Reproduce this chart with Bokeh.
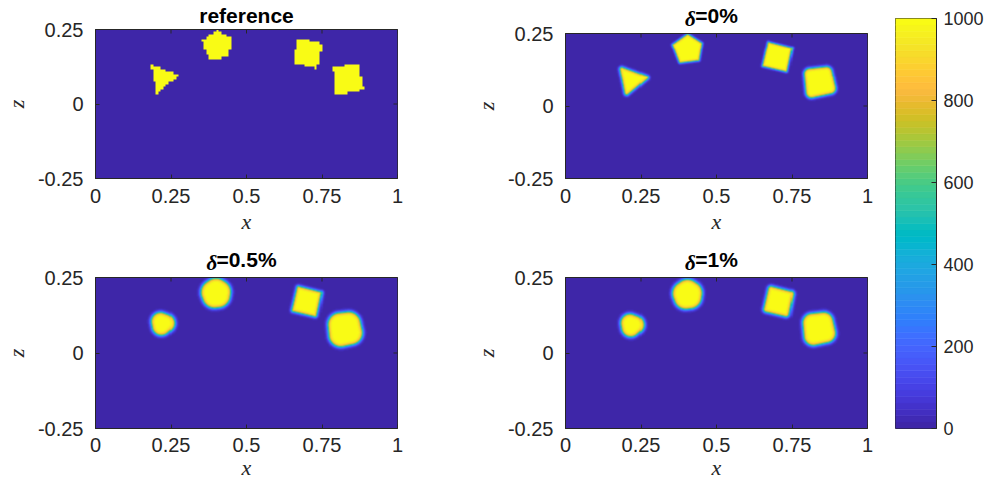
import numpy as np
from bokeh.plotting import figure
from bokeh.models import Range1d, LinearAxis, FixedTicker, LinearColorMapper
from bokeh.layouts import row, column
from bokeh.embed import file_html
from bokeh.resources import INLINE

# ---------------- data ----------------
panel_titles = ["reference", "=0%", "=0.5%", "=1%"]
panel_has_delta = [False, True, True, True]
x_ticks = [0, 0.25, 0.5, 0.75, 1]
x_tick_labels = ["0", "0.25", "0.5", "0.75", "1"]
z_ticks = [-0.25, 0, 0.25]
z_tick_labels = ["-0.25", "0", "0.25"]
cbar_ticks = [0, 200, 400, 600, 800, 1000]
cbar_tick_labels = ["0", "200", "400", "600", "800", "1000"]
value_low = 0
value_high = 1000
x_label = "x"
z_label = "z"

# reference inclusions (polygon vertices)
triangle_x = [0.184, 0.277, 0.203]
triangle_z = [0.132, 0.0975, 0.035]
pentagon_x = [0.404, 0.452, 0.442, 0.377, 0.353]
pentagon_z = [0.248, 0.217, 0.157, 0.149, 0.212]
square_a_x = [0.672, 0.751, 0.734, 0.653]
square_a_z = [0.221, 0.201, 0.119, 0.138]
square_b_x = [0.786, 0.870, 0.889, 0.795]
square_b_z = [0.125, 0.134, 0.049, 0.029]

# reconstructions: per inclusion (triangle, pentagon, square a, square b)
d0_shift_x = [-0.002, 0.000, 0.000, 0.005]
d0_shift_z = [0.002, 0.000, 0.000, 0.000]
d0_shrink = [0.84, 0.94, 0.96, 0.66]
d0_round = [0.007, 0.003, 0.002, 0.019]
d0_blur = [0.0028, 0.0022, 0.0022, 0.003]

d05_shift_x = [0.001, -0.007, -0.002, -0.010]
d05_shift_z = [0.008, 0.001, 0.000, -0.006]
d05_shrink = [0.15, 0.18, 0.90, 0.35]
d05_round = [0.031, 0.041, 0.005, 0.040]
d05_blur = [0.0035, 0.0035, 0.003, 0.0035]

d1_shift_x = [-0.001, -0.002, 0.004, 0.003]
d1_shift_z = [0.003, -0.003, 0.000, -0.004]
d1_shrink = [0.15, 0.20, 0.80, 0.45]
d1_round = [0.031, 0.040, 0.010, 0.032]
d1_blur = [0.0035, 0.0035, 0.0032, 0.0035]

# MATLAB parula (64)
parula = [
    (0.2422, 0.1504, 0.6603), (0.2504, 0.1650, 0.7076), (0.2578, 0.1818, 0.7511), (0.2647, 0.1978, 0.7952),
    (0.2706, 0.2147, 0.8364), (0.2751, 0.2342, 0.8710), (0.2783, 0.2559, 0.8991), (0.2803, 0.2782, 0.9221),
    (0.2813, 0.3006, 0.9414), (0.2810, 0.3228, 0.9579), (0.2795, 0.3447, 0.9717), (0.2760, 0.3667, 0.9829),
    (0.2699, 0.3892, 0.9906), (0.2602, 0.4123, 0.9952), (0.2440, 0.4358, 0.9988), (0.2206, 0.4603, 0.9973),
    (0.1963, 0.4847, 0.9892), (0.1834, 0.5074, 0.9798), (0.1786, 0.5289, 0.9682), (0.1764, 0.5499, 0.9520),
    (0.1687, 0.5703, 0.9359), (0.1540, 0.5902, 0.9218), (0.1460, 0.6091, 0.9079), (0.1380, 0.6276, 0.8973),
    (0.1248, 0.6459, 0.8883), (0.1113, 0.6635, 0.8763), (0.0952, 0.6798, 0.8598), (0.0689, 0.6948, 0.8394),
    (0.0297, 0.7082, 0.8163), (0.0036, 0.7203, 0.7917), (0.0067, 0.7312, 0.7660), (0.0433, 0.7411, 0.7394),
    (0.0964, 0.7500, 0.7120), (0.1408, 0.7584, 0.6842), (0.1717, 0.7670, 0.6554), (0.1938, 0.7758, 0.6251),
    (0.2161, 0.7843, 0.5923), (0.2470, 0.7918, 0.5567), (0.2906, 0.7973, 0.5188), (0.3406, 0.8008, 0.4789),
    (0.3909, 0.8029, 0.4354), (0.4456, 0.8024, 0.3909), (0.5044, 0.7993, 0.3480), (0.5616, 0.7942, 0.3045),
    (0.6174, 0.7876, 0.2612), (0.6720, 0.7793, 0.2227), (0.7242, 0.7698, 0.1910), (0.7738, 0.7598, 0.1646),
    (0.8203, 0.7498, 0.1535), (0.8634, 0.7406, 0.1596), (0.9035, 0.7330, 0.1774), (0.9393, 0.7288, 0.2100),
    (0.9728, 0.7298, 0.2394), (0.9956, 0.7434, 0.2371), (0.9970, 0.7659, 0.2199), (0.9952, 0.7893, 0.2028),
    (0.9892, 0.8136, 0.1885), (0.9786, 0.8386, 0.1766), (0.9676, 0.8639, 0.1643), (0.9610, 0.8890, 0.1537),
    (0.9597, 0.9135, 0.1423), (0.9628, 0.9373, 0.1265), (0.9691, 0.9606, 0.1064), (0.9769, 0.9839, 0.0805),
]
palette = ["#%02x%02x%02x" % tuple(int(round(c * 255)) for c in rgb) for rgb in parula]

# ---------------- field construction ----------------
shapes = [(triangle_x, triangle_z), (pentagon_x, pentagon_z), (square_a_x, square_a_z), (square_b_x, square_b_z)]


def grid(nx, nz):
    xs = (np.arange(nx) + 0.5) / nx
    zs = -0.25 + (np.arange(nz) + 0.5) / nz * 0.5
    return np.meshgrid(xs, zs)


def poly_sdf(PX, PZ, vx, vz):
    n = len(vx)
    d = np.full(PX.shape, np.inf)
    s = np.ones(PX.shape)
    for i in range(n):
        j = (i - 1) % n
        ex, ez = vx[j] - vx[i], vz[j] - vz[i]
        wx, wz = PX - vx[i], PZ - vz[i]
        t = np.clip((wx * ex + wz * ez) / (ex * ex + ez * ez), 0, 1)
        bx, bz = wx - ex * t, wz - ez * t
        d = np.minimum(d, bx * bx + bz * bz)
        c1 = PZ >= vz[i]
        c2 = PZ < vz[j]
        c3 = ex * wz > ez * wx
        flip = (c1 & c2 & c3) | (~c1 & ~c2 & ~c3)
        s = np.where(flip, -s, s)
    return s * np.sqrt(d)


def reference_field():
    PX, PZ = grid(120, 60)
    f = np.full(PX.shape, float(value_low))
    for vx, vz in shapes:
        f[poly_sdf(PX, PZ, np.array(vx), np.array(vz)) < 0] = value_high
    return np.kron(f, np.ones((5, 5)))


def recon_field(sx, sz, shrink, rnd, blur):
    PX, PZ = grid(300, 150)
    f = np.full(PX.shape, float(value_low))
    for k, (vx, vz) in enumerate(shapes):
        vx = np.array(vx); vz = np.array(vz)
        cx, cz = vx.mean(), vz.mean()
        nvx = cx + shrink[k] * (vx - cx) + sx[k]
        nvz = cz + shrink[k] * (vz - cz) + sz[k]
        d = poly_sdf(PX, PZ, nvx, nvz) - rnd[k]
        v = value_high / (1.0 + np.exp(np.clip(d / blur[k], -50, 50)))
        f = np.maximum(f, v)
    return f


fields = [
    reference_field(),
    recon_field(d0_shift_x, d0_shift_z, d0_shrink, d0_round, d0_blur),
    recon_field(d05_shift_x, d05_shift_z, d05_shrink, d05_round, d05_blur),
    recon_field(d1_shift_x, d1_shift_z, d1_shrink, d1_round, d1_blur),
]

mapper = LinearColorMapper(palette=palette, low=value_low, high=value_high)

AX = "#262626"
TICK_FONT = "Liberation Sans"
TICK_SIZE = "20px"
CB_TICK_SIZE = "18px"
TITLE_PX = 21
LABEL_FONT = "Liberation Serif"
LABEL_SIZE = "22px"
FRAME_W = 308

char_w = {"=": 0.584, ".": 0.278, "%": 0.889}


def text_width(s, size):
    return sum(char_w.get(c, 0.556) for c in s) * size


def style_axis(ax, ticks, labels, standoff):
    ax.ticker = FixedTicker(ticks=ticks)
    ax.major_label_overrides = dict(zip(ticks, labels))
    ax.major_tick_in = 4
    ax.major_tick_out = 0
    ax.minor_tick_in = 0
    ax.minor_tick_out = 0
    ax.axis_line_color = AX
    ax.major_tick_line_color = AX
    ax.major_label_text_color = AX
    ax.major_label_text_font = TICK_FONT
    ax.major_label_text_font_size = TICK_SIZE
    ax.major_label_standoff = standoff
    ax.axis_label_text_font = LABEL_FONT
    ax.axis_label_text_font_style = "italic"
    ax.axis_label_text_font_size = LABEL_SIZE
    ax.axis_label_text_color = AX


def make_panel(k, width, height, left, right, top, bottom, xtick_standoff, xlab_standoff):
    p = figure(width=width, height=height, x_range=Range1d(0, 1), y_range=Range1d(-0.25, 0.25),
               output_backend="svg", toolbar_location=None,
               min_border_left=left, min_border_right=right, min_border_top=top, min_border_bottom=bottom)
    p.image(image=[fields[k]], x=0, y=-0.25, dw=1, dh=0.5, color_mapper=mapper)
    p.grid.visible = False
    p.outline_line_color = AX
    p.background_fill_color = "white"
    p.border_fill_color = "white"
    style_axis(p.xaxis[0], x_ticks, x_tick_labels, xtick_standoff)
    p.xaxis[0].axis_label = x_label
    p.xaxis[0].axis_label_standoff = xlab_standoff
    style_axis(p.yaxis[0], z_ticks, z_tick_labels, 12)
    p.yaxis[0].axis_label = z_label
    p.yaxis[0].axis_label_standoff = 6

    # mirrored ticks on top and right edges
    p.ray(x=x_ticks, y=0.25, length=4, length_units="screen", angle=-np.pi / 2, line_color=AX, line_width=1)
    p.ray(x=1, y=z_ticks, length=4, length_units="screen", angle=np.pi, line_color=AX, line_width=1)

    # title as the label of a top axis
    title = panel_titles[k]
    top_ax = LinearAxis(axis_line_color=AX, major_tick_in=0, major_tick_out=0,
                        minor_tick_in=0, minor_tick_out=0)
    top_ax.axis_label = title
    top_ax.axis_label_text_font = "Liberation Sans"
    top_ax.axis_label_text_font_style = "bold"
    top_ax.axis_label_text_font_size = f"{TITLE_PX}px"
    top_ax.axis_label_text_color = "black"
    if panel_has_delta[k]:
        wd = 0.5 * TITLE_PX
        wr = text_width(title, TITLE_PX)
        dpos = round(0.5 - (wr / 2 + wd / 2) / FRAME_W, 4)
        top_ax.ticker = FixedTicker(ticks=[dpos])
        top_ax.major_label_overrides = {dpos: "δ"}
        top_ax.major_label_text_font = "Liberation Serif"
        top_ax.major_label_text_font_style = "bold italic"
        top_ax.major_label_text_font_size = f"{TITLE_PX}px"
        top_ax.major_label_text_color = "black"
        top_ax.major_label_standoff = 3
        top_ax.axis_label_standoff = -23
    else:
        top_ax.ticker = FixedTicker(ticks=[])
        top_ax.axis_label_standoff = 3
    p.add_layout(top_ax, "above")
    return p


# page area available: 986 x 484 starting at (8, 8)
tl = make_panel(0, 470, 238, 89, 73, 27, 60, 10, 3)
tr = make_panel(1, 409, 238, 89, 12, 27, 60, 10, 3)
bl = make_panel(2, 470, 246, 89, 73, 39, 56, 9, 0)
br = make_panel(3, 409, 246, 89, 12, 39, 56, 9, 0)

# colorbar
cb = figure(width=107, height=484, x_range=Range1d(0, 1), y_range=Range1d(value_low, value_high),
            output_backend="svg", toolbar_location=None, x_axis_location=None, y_axis_location="right",
            min_border_left=16, min_border_right=47, min_border_top=18, min_border_bottom=56)
n = len(palette)
edges = np.linspace(value_low, value_high, n + 1)
cb.quad(left=0, right=1, bottom=edges[:-1], top=edges[1:], fill_color=palette, line_color=palette, line_width=0.6)
cb.grid.visible = False
cb.outline_line_color = AX
cb.background_fill_color = "white"
cb.border_fill_color = "white"
ya = cb.yaxis[0]
ya.ticker = FixedTicker(ticks=cbar_ticks)
ya.major_label_overrides = dict(zip(cbar_ticks, cbar_tick_labels))
ya.major_tick_in = 5
ya.major_tick_out = 0
ya.minor_tick_in = 0
ya.minor_tick_out = 0
ya.axis_line_color = AX
ya.major_tick_line_color = AX
ya.major_label_text_color = AX
ya.major_label_text_font = TICK_FONT
ya.major_label_text_font_size = CB_TICK_SIZE
ya.major_label_standoff = 7

layout = row(column(tl, bl), column(tr, br), cb)

with open("out.html", "w") as fh:
    fh.write(file_html(layout, INLINE))
